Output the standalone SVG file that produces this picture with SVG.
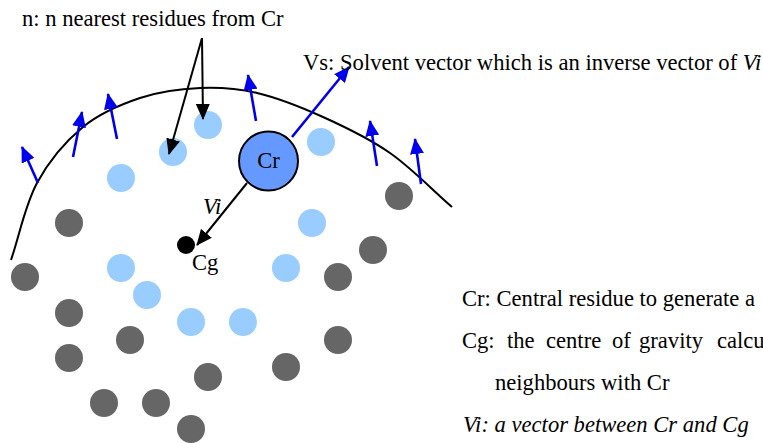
<svg xmlns="http://www.w3.org/2000/svg" width="763" height="443" viewBox="0 0 763 443">
<style>
text{font-family:'Liberation Serif','DejaVu Serif',serif;font-size:22.6px;fill:#000}
.it{font-style:italic}
.lb{fill:#99ccff}
.dk{fill:#666666}
.blk{stroke:#000;stroke-width:2;fill:none}
.blu{stroke:#0000ee;stroke-width:2.6;fill:none}
</style>
<defs>
<marker id="ah" markerUnits="userSpaceOnUse" markerWidth="16" markerHeight="14" refX="15" refY="7" orient="auto">
<path d="M0,0 L16,7 L0,14 Z" fill="#000"/>
</marker>
<marker id="bh" markerUnits="userSpaceOnUse" markerWidth="16" markerHeight="14" refX="15" refY="7" orient="auto">
<path d="M0,0 L16,7 L0,14 Z" fill="#0000ee"/>
</marker>
</defs>
<rect width="763" height="443" fill="#fff"/>
<path id="surface" class="blk" d="M11,260 C19.7,234.3 25,205.2 37,183 C49,160.8 65.8,141.2 83,127 C100.2,112.8 120.5,104.5 140,98 C159.5,91.5 180.5,88.8 200,88 C219.5,87.2 236.5,88.2 257,93 C277.5,97.8 300.8,107 323,117 C345.2,127 368.5,138 390,153 C411.5,168 431.3,189 452,207"/>
<g id="neighbours">
<circle class="lb" cx="121" cy="178" r="14"/>
<circle class="lb" cx="173" cy="152" r="14"/>
<circle class="lb" cx="208" cy="125" r="14"/>
<circle class="lb" cx="321" cy="142" r="14"/>
<circle class="lb" cx="312" cy="223" r="14"/>
<circle class="lb" cx="121" cy="268" r="14"/>
<circle class="lb" cx="147" cy="295" r="14"/>
<circle class="lb" cx="191" cy="322" r="14"/>
<circle class="lb" cx="243" cy="322" r="14"/>
<circle class="lb" cx="286" cy="268" r="14"/>
</g>
<g id="others">
<circle class="dk" cx="69" cy="223" r="14"/>
<circle class="dk" cx="25" cy="277" r="14"/>
<circle class="dk" cx="69" cy="313" r="14"/>
<circle class="dk" cx="130" cy="340" r="14"/>
<circle class="dk" cx="69" cy="358" r="14"/>
<circle class="dk" cx="104" cy="403" r="14"/>
<circle class="dk" cx="156" cy="403" r="14"/>
<circle class="dk" cx="191" cy="429" r="14"/>
<circle class="dk" cx="208" cy="377" r="14"/>
<circle class="dk" cx="286" cy="367" r="14"/>
<circle class="dk" cx="338" cy="340" r="14"/>
<circle class="dk" cx="338" cy="277" r="14"/>
<circle class="dk" cx="373" cy="250" r="14"/>
<circle class="dk" cx="399" cy="196" r="14"/>
</g>
<g id="connectors">
<line class="blk" x1="202" y1="38" x2="169" y2="154" marker-end="url(#ah)"/>
<line class="blk" x1="202" y1="38" x2="203" y2="119" marker-end="url(#ah)"/>
<line class="blk" x1="247" y1="183" x2="197" y2="245" marker-end="url(#ah)"/>
<line class="blu" x1="292" y1="137" x2="349" y2="67" marker-end="url(#bh)"/>
<line class="blu" x1="38" y1="183" x2="22" y2="147" marker-end="url(#bh)"/>
<line class="blu" x1="73" y1="157" x2="82" y2="112" marker-end="url(#bh)"/>
<line class="blu" x1="117" y1="139" x2="108" y2="94" marker-end="url(#bh)"/>
<line class="blu" x1="256" y1="121" x2="248" y2="75" marker-end="url(#bh)"/>
<line class="blu" x1="377" y1="166" x2="370" y2="121" marker-end="url(#bh)"/>
<line class="blu" x1="421" y1="184" x2="415" y2="139" marker-end="url(#bh)"/>
</g>
<g id="Cr">
<circle cx="268.5" cy="161" r="29.5" fill="#6699ff" stroke="#000" stroke-width="2"/>
<text x="268.5" y="168" text-anchor="middle" font-family="Liberation Serif">Cr</text>
</g>
<g id="Cg">
<circle cx="186" cy="245" r="9" fill="#000"/>
<text x="192" y="270">Cg</text>
</g>
<text class="it" x="203" y="214">Vi</text>
<text x="22" y="26">n: n nearest residues from Cr</text>
<text x="303" y="70">Vs: Solvent vector which is an inverse vector of <tspan class="it">Vi</tspan></text>
<g id="legend">
<text x="462" y="306">Cr: Central residue to generate a</text>
<text y="348"><tspan x="462">Cg:</tspan><tspan x="507">the</tspan><tspan x="546">centre</tspan><tspan x="612">of</tspan><tspan x="639">gravity</tspan><tspan x="717">calcu</tspan></text>
<text x="495" y="390">neighbours with Cr</text>
<text class="it" x="463" y="432">Vi: a vector between Cr and Cg</text>
</g>
</svg>
